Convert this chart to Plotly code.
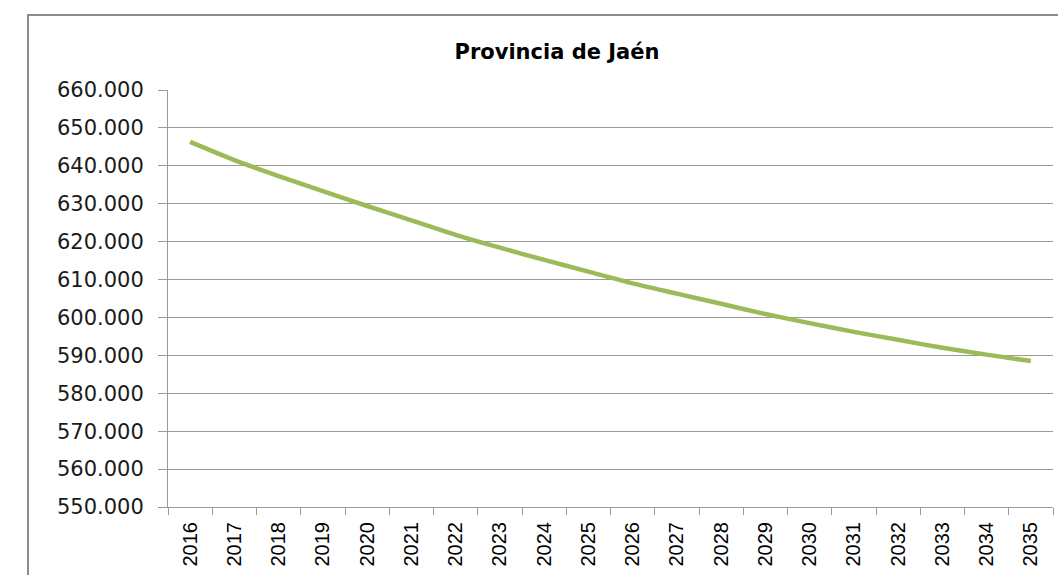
import plotly.graph_objects as go

years = [str(y) for y in range(2016, 2036)]
population = [646300, 641500, 637300, 633300, 629400, 625600, 621800, 618400,
              615200, 612100, 609000, 606300, 603600, 600900, 598500, 596200,
              594100, 592000, 590200, 588500]
title_text = "Provincia de Jaén"

W, H = 1058, 575
L, R, T, B = 168, 5, 90, 68
pw, ph = W - L - R, H - T - B

fig = go.Figure()
fig.add_trace(go.Scatter(
    x=years, y=population, mode="lines",
    line=dict(color="#9BBB59", width=4.5, shape="spline", smoothing=0.6),
    hoverinfo="x+y", showlegend=False,
))

def px_to_paper_x(px):
    return (px - L) / pw

def px_to_paper_y(py):
    return (H - B - py) / ph

fig.update_layout(
    width=W, height=H,
    margin=dict(l=L, r=R, t=T, b=B),
    paper_bgcolor="white", plot_bgcolor="white",
    separators=",.",
    title=dict(text="<b>" + title_text + "</b>", x=px_to_paper_x(557), xref="paper",
               xanchor="center", y=1 - 52 / H, yref="container", yanchor="middle",
               font=dict(family="DejaVu Sans", size=21, color="#000000")),
    xaxis=dict(
        type="category", tickangle=-90, tickson="boundaries",
        range=[-0.5, len(years) - 0.5],
        ticks="outside", ticklen=7, tickcolor="#9a9a9a", tickwidth=1,
        ticklabelstandoff=6,
        showline=True, linecolor="#9a9a9a", linewidth=1,
        showgrid=False, zeroline=False,
        tickfont=dict(family="Liberation Sans", size=20, color="#000000"),
    ),
    yaxis=dict(
        range=[550000, 660000], dtick=10000, tick0=550000,
        tickformat=",d",
        ticks="outside", ticklen=9, tickcolor="#9a9a9a", tickwidth=1,
        ticklabelstandoff=10,
        showline=True, linecolor="#9a9a9a", linewidth=1,
        showgrid=True, gridcolor="#9a9a9a", gridwidth=1,
        zeroline=False,
        tickfont=dict(family="DejaVu Sans", size=21, color="#1a1a1a"),
    ),
    shapes=[dict(
        type="rect", xref="paper", yref="paper",
        x0=px_to_paper_x(28), x1=px_to_paper_x(1080),
        y0=px_to_paper_y(600), y1=px_to_paper_y(15),
        line=dict(color="#8c8c8c", width=2), fillcolor="rgba(0,0,0,0)",
        layer="below",
    )],
)

fig.write_html("out.html",
               config={"displayModeBar": False},
               post_script="document.body.style.margin='0';document.body.style.padding='0';document.body.style.overflow='hidden';")
